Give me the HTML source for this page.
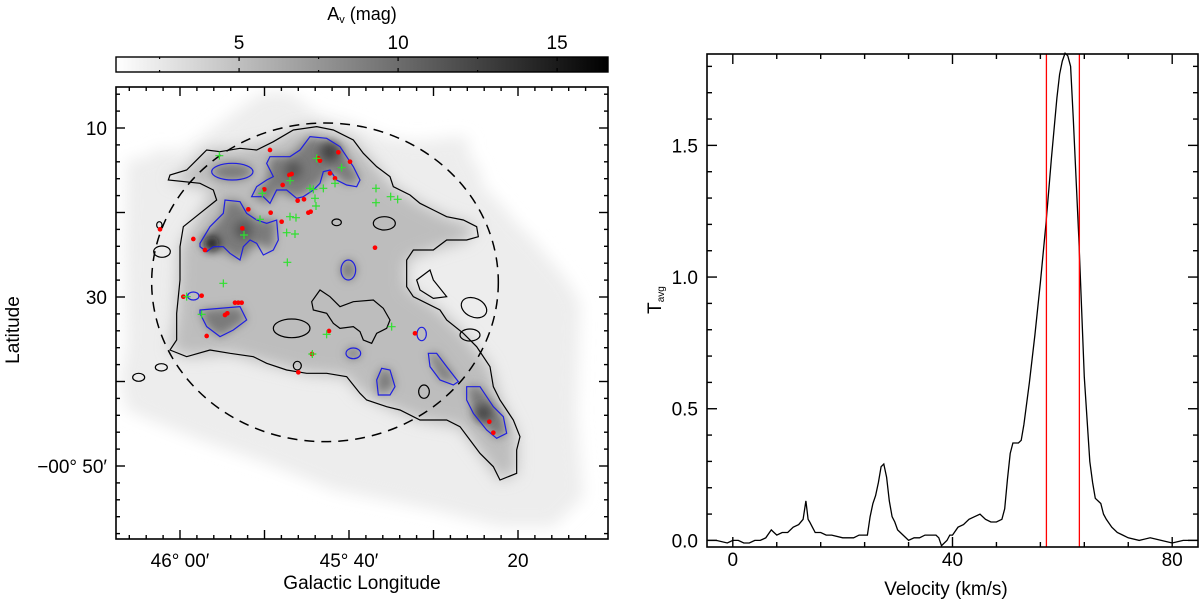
<!DOCTYPE html>
<html><head><meta charset="utf-8"><style>
html,body{margin:0;padding:0;background:#fff;}
svg{display:block;font-family:"Liberation Sans",Arial,sans-serif;}
</style></head><body>
<svg id="fig" width="1200" height="603" viewBox="0 0 1200 603" xmlns="http://www.w3.org/2000/svg">
<defs>
<linearGradient id="cbg" x1="0" x2="1" y1="0" y2="0"><stop offset="0" stop-color="#fff"/><stop offset="1" stop-color="#000"/></linearGradient>
<filter id="bl" x="-20%" y="-20%" width="140%" height="140%"><feGaussianBlur stdDeviation="22"/></filter>
<filter id="bl2" x="-50%" y="-50%" width="200%" height="200%"><feGaussianBlur stdDeviation="14"/></filter>
<clipPath id="mapclip"><rect x="116" y="87" width="492" height="452"/></clipPath>
</defs>

<g>
<text x="362" y="20" font-size="18" text-anchor="middle">A<tspan font-size="11" dy="3">v</tspan><tspan dy="-3"> (mag)</tspan></text>
<rect x="116" y="57" width="492" height="15" fill="url(#cbg)" stroke="#000" stroke-width="1.4"/>
<g id="cbticks"></g>
</g>

<g clip-path="url(#mapclip)">
<g transform="translate(100,80) scale(0.33333)">
<polygon filter="url(#bl)" fill="#ededed" points="80,240 150,230 160,210 250,210 400,100 480,40 560,35 600,60 650,100 760,130 850,170 950,185 1070,170 1105,175 1105,220 1140,270 1150,320 1200,370 1250,430 1300,480 1350,540 1400,600 1440,670 1430,1000 1450,1250 1360,1340 1200,1340 1000,1290 700,1230 500,1150 300,1080 150,1020 80,990 60,900 80,800 75,500"/>
<polygon filter="url(#bl)" fill="#bdbdbd" points="205,300 260,270 320,210 420,205 520,185 580,150 650,140 760,180 830,260 880,320 960,370 1040,410 1130,440 1100,480 1000,510 920,540 920,620 1020,690 1090,760 1170,860 1200,960 1250,1060 1250,1180 1200,1200 1140,1120 1080,1040 960,1020 860,980 780,940 740,890 620,880 500,850 390,820 260,830 210,810 230,700 240,500 300,400 340,330"/>
<g filter="url(#bl2)" fill="#7a7a7a">
<polygon points="455,350 500,300 510,230 570,230 630,170 720,200 780,300 740,315 690,270 660,310 590,355 530,330 510,370"/>
<polygon points="300,490 370,400 375,360 420,365 470,420 530,420 520,510 470,490 420,540 340,500"/>
<polygon points="300,690 420,680 440,720 360,770 320,740"/>
<ellipse cx="397" cy="275" rx="62" ry="25"/>
<polygon points="1100,920 1140,920 1210,1010 1220,1060 1190,1075 1120,1000"/>
<polygon points="985,820 1010,820 1075,905 1020,900"/>
<polygon points="830,900 845,865 870,870 885,920 835,945"/>
<ellipse cx="745" cy="570" rx="22" ry="30"/>
<ellipse cx="760" cy="820" rx="22" ry="16"/>
</g>
<g filter="url(#bl2)">
<circle cx="335" cy="492" r="22" fill="#111"/>
<circle cx="690" cy="215" r="30" fill="#444"/>
<circle cx="580" cy="270" r="25" fill="#555"/>
<circle cx="1150" cy="1000" r="25" fill="#444"/>
<circle cx="430" cy="450" r="25" fill="#555"/>
</g>
<g fill="none" stroke-width="1.2" vector-effect="non-scaling-stroke">
<path stroke="#000" vector-effect="non-scaling-stroke" d="M205,300 L210,285 260,270 300,230 320,210 360,215 420,205 470,210 520,185 580,150 650,140 700,150 760,180 790,220 830,260 870,290 880,320 930,345 960,370 1000,390 1040,410 1090,420 1130,440 1135,470 1100,480 1040,480 1000,510 940,510 920,540 920,620 940,650 1020,690 1040,720 1090,760 1130,800 1170,860 1180,920 1200,960 1240,1020 1260,1070 1250,1110 1250,1180 1200,1200 1180,1160 1140,1120 1110,1080 1080,1040 1040,1020 960,1020 900,990 860,980 800,960 780,940 740,890 680,880 620,880 560,870 500,850 460,830 390,820 330,810 260,830 210,810 230,780 230,700 240,600 240,500 250,440 300,400 350,360 340,330 300,310 Z"/>
<g stroke="#000">
<ellipse cx="575" cy="745" rx="55" ry="28" vector-effect="non-scaling-stroke"/>
<path vector-effect="non-scaling-stroke" d="M635,665 L660,630 690,650 720,680 760,665 820,660 850,685 870,720 860,745 830,760 815,790 790,780 780,755 760,740 720,745 700,730 680,700 640,690 Z"/>
<ellipse cx="853" cy="430" rx="33" ry="20" vector-effect="non-scaling-stroke"/>
<ellipse cx="710" cy="427" rx="14" ry="10" vector-effect="non-scaling-stroke"/>
<path vector-effect="non-scaling-stroke" d="M950,600 L990,570 1000,600 1040,650 1000,655 960,630 Z"/>
<ellipse cx="1122" cy="683" rx="40" ry="28" vector-effect="non-scaling-stroke" transform="rotate(25 1122 683)"/>
<ellipse cx="1110" cy="765" rx="30" ry="18" vector-effect="non-scaling-stroke"/>
<ellipse cx="972" cy="935" rx="16" ry="20" vector-effect="non-scaling-stroke"/>
<ellipse cx="186" cy="515" rx="25" ry="17" vector-effect="non-scaling-stroke"/>
<ellipse cx="184" cy="862" rx="18" ry="11" vector-effect="non-scaling-stroke"/>
<ellipse cx="116" cy="892" rx="18" ry="12" vector-effect="non-scaling-stroke"/>
<ellipse cx="178" cy="435" rx="8" ry="10" vector-effect="non-scaling-stroke"/>
<ellipse cx="592" cy="857" rx="12" ry="13" vector-effect="non-scaling-stroke"/>
</g>
<g stroke="#1f1fe0">
<ellipse cx="397" cy="275" rx="62" ry="25" vector-effect="non-scaling-stroke"/>
<path vector-effect="non-scaling-stroke" d="M455,350 L470,320 500,300 520,290 500,250 510,230 570,230 600,210 630,170 680,175 720,200 740,230 760,260 780,300 770,320 740,315 710,300 690,270 670,275 660,310 640,330 610,350 590,355 560,330 530,330 520,350 510,370 490,350 Z"/>
<path vector-effect="non-scaling-stroke" d="M300,490 L330,440 370,400 375,360 420,365 440,400 470,420 500,430 530,420 535,480 520,510 490,525 470,490 450,480 430,500 420,540 390,520 370,500 340,500 320,515 300,500 Z"/>
<ellipse cx="745" cy="570" rx="22" ry="30" vector-effect="non-scaling-stroke"/>
<ellipse cx="280" cy="648" rx="17" ry="12" vector-effect="non-scaling-stroke"/>
<path vector-effect="non-scaling-stroke" d="M300,690 L420,680 440,720 400,750 360,770 320,740 300,700 Z"/>
<ellipse cx="760" cy="820" rx="22" ry="16" vector-effect="non-scaling-stroke"/>
<path vector-effect="non-scaling-stroke" d="M830,900 L845,865 870,870 885,920 870,945 835,945 Z"/>
<ellipse cx="965" cy="762" rx="14" ry="20" vector-effect="non-scaling-stroke"/>
<path vector-effect="non-scaling-stroke" d="M985,820 L1010,820 1040,860 1075,905 1060,915 1020,900 990,860 Z"/>
<path vector-effect="non-scaling-stroke" d="M1100,920 L1140,920 1180,980 1210,1010 1220,1060 1190,1075 1160,1050 1120,1000 1100,960 Z"/>
</g>
<ellipse cx="675" cy="607" rx="520" ry="478" stroke="#000" stroke-dasharray="10,7" vector-effect="non-scaling-stroke" stroke-width="1.5"/>
</g>
<g id="markers"></g>
</g>
</g>
<rect x="116" y="87" width="492" height="452" fill="none" stroke="#000" stroke-width="1.6"/>
<g id="mapticks"></g>
<text x="180" y="567" font-size="19" text-anchor="middle">46° 00′</text>
<text x="349" y="567" font-size="19" text-anchor="middle">45° 40′</text>
<text x="518" y="567" font-size="19" text-anchor="middle">20</text>
<text x="107" y="135" font-size="19" text-anchor="end">10</text>
<text x="107" y="304" font-size="19" text-anchor="end">30</text>
<text x="107" y="473" font-size="19" text-anchor="end">−00° 50′</text>
<text x="362" y="589" font-size="19" text-anchor="middle">Galactic Longitude</text>
<text transform="translate(19,330) rotate(-90)" font-size="19" text-anchor="middle">Latitude</text>

<g id="spec"></g>
<text transform="translate(661,300) rotate(-90)" font-size="19" text-anchor="middle">T<tspan font-size="10" dy="3">avg</tspan></text>
<text x="946" y="595" font-size="19" text-anchor="middle">Velocity (km/s)</text>
</svg>
<script>
const NS="http://www.w3.org/2000/svg";
const velocity=[-4.7,-3,-1,0,1,2,3,4,5,6,7,7.5,8,9,10,11,12,12.8,13.3,13.7,14,14.5,15,16,17,18,20,22,23,24,24.5,25,25.5,26,26.5,27,27.5,28,28.5,29,29.5,30,31,32,33,34,35,36,37,37.5,38,39,39.5,40,41,42,43,44,45,46,47,48,49,49.5,50,50.5,51,52,52.5,53,54,55,56,57,58,59,59.5,60,60.5,61,61.5,62,63,64,65,65.5,66,67,67.5,68,69,70,71,72,74,76,78,80,82,84.7];
const tavg=[0.0,0.0,-0.01,0.0,0.0,-0.01,-0.01,0.0,0.0,0.01,0.04,0.03,0.02,0.03,0.03,0.05,0.06,0.08,0.15,0.08,0.07,0.05,0.03,0.03,0.02,0.02,0.01,0.01,0.02,0.02,0.02,0.09,0.14,0.17,0.22,0.28,0.29,0.24,0.15,0.09,0.07,0.04,0.02,0.0,0.01,0.01,0.02,0.02,0.02,0.01,-0.02,0.0,0.02,0.02,0.05,0.06,0.08,0.09,0.1,0.08,0.07,0.07,0.08,0.12,0.23,0.33,0.37,0.37,0.38,0.44,0.6,0.78,0.98,1.2,1.45,1.68,1.77,1.82,1.85,1.84,1.8,1.6,1.15,0.62,0.3,0.22,0.16,0.14,0.1,0.08,0.05,0.03,0.02,0.01,0.0,0.01,0.0,-0.01,0.0,0.0,0.0];
const redLines=[57.1,63.1];
const xTicks=[0,40,80];
const yTicks=[0.0,0.5,1.0,1.5];
const cbTicks=[5,10,15];
const ylCls=[
[510,210],[655,235],[660,242],[715,217],[750,245],[690,280],[705,295],[575,282],[568,285],[493,328],[548,315],[593,362],[612,358],[445,388],[512,398],[625,398],[632,395],[545,425],[427,445],[280,477],[315,510],[180,448],[825,503],[250,650],[305,647],[405,668],[425,668],[415,668],[375,705],[382,700],[320,768],[687,753],[636,822],[595,877],[945,760],[1168,1025],[1180,1058]];
const ysos=[[358,227],[650,235],[725,263],[570,302],[705,310],[630,325],[640,328],[670,325],[487,340],[828,325],[828,368],[872,350],[893,358],[645,355],[648,378],[570,410],[588,413],[480,418],[432,465],[560,458],[585,462],[562,547],[370,610],[260,650],[305,703],[680,763],[875,740],[637,822]];

const X0=707,X1=1198,Y0=54,Y1=547,vmin=-4.7,vmax=84.7,tmin=-0.025,tmax=1.847;
const sx=v=>X0+(v-vmin)/(vmax-vmin)*(X1-X0);
const sy=t=>Y1-(t-tmin)/(tmax-tmin)*(Y1-Y0);
function mk(tag,attrs,parent){const e=document.createElementNS(NS,tag);for(const k in attrs)e.setAttribute(k,attrs[k]);parent.appendChild(e);return e;}
const spec=document.getElementById('spec');
let d='';velocity.forEach((v,i)=>{d+=(i?'L':'M')+sx(v).toFixed(1)+','+sy(tavg[i]).toFixed(1)+' ';});
const ln=mk('path',{d:d,fill:'none',stroke:'#000','stroke-width':1.3},spec);


redLines.forEach(v=>{const r=mk('line',{x1:sx(v),x2:sx(v),y1:Y0,y2:Y1,stroke:'#f00','stroke-width':1.3},spec);

});
const fr=mk('rect',{x:X0,y:Y0,width:X1-X0,height:Y1-Y0,fill:'none',stroke:'#000','stroke-width':1.6},spec);


for(let v=0;v<=vmax;v+=8){const x=sx(v),L=(v%40===0)?10:5;
mk('line',{x1:x,x2:x,y1:Y1,y2:Y1-L,stroke:'#000','stroke-width':1.4},spec);
mk('line',{x1:x,x2:x,y1:Y0,y2:Y0+L,stroke:'#000','stroke-width':1.4},spec);}
xTicks.forEach(v=>{const t=mk('text',{x:sx(v),y:566,'font-size':19,'text-anchor':'middle'},spec);t.textContent=String(v);

});
for(let i=0;i<=18;i++){const t=i/10,y=sy(t),L=(i%5===0)?10:5;
mk('line',{x1:X0,x2:X0+L,y1:y,y2:y,stroke:'#000','stroke-width':1.4},spec);
mk('line',{x1:X1,x2:X1-L,y1:y,y2:y,stroke:'#000','stroke-width':1.4},spec);}
yTicks.forEach(t=>{const e=mk('text',{x:698,y:sy(t)+7,'font-size':19,'text-anchor':'end'},spec);e.textContent=t.toFixed(1);

});
const cb=document.getElementById('cbticks');const cx=a=>116+(a-1.13)/(16.6-1.13)*492;
for(let a=2.5;a<16.6;a+=2.5){const x=cx(a),L=(a%5===0)?4:2;
mk('line',{x1:x,x2:x,y1:57,y2:57+L,stroke:'#000','stroke-width':1.2},cb);mk('line',{x1:x,x2:x,y1:72,y2:72-L,stroke:'#000','stroke-width':1.2},cb);}
cbTicks.forEach(a=>{const t=mk('text',{x:cx(a),y:49,'font-size':19,'text-anchor':'middle'},cb);t.textContent=String(a);

});
const mt=document.getElementById('mapticks');
for(let k=-4;k<=24;k++){const x=180+k*16.9;if(x<116||x>608)continue;const L=(k%5===0)?9:4;
mk('line',{x1:x,x2:x,y1:539,y2:539-L,stroke:'#000','stroke-width':1.4},mt);mk('line',{x1:x,x2:x,y1:87,y2:87+L,stroke:'#000','stroke-width':1.4},mt);}
for(let k=-3;k<=25;k++){const y=128+k*16.9;if(y<87||y>539)continue;const L=(k%5===0)?9:4;
mk('line',{x1:116,x2:116+L,y1:y,y2:y,stroke:'#000','stroke-width':1.4},mt);mk('line',{x1:608,x2:608-L,y1:y,y2:y,stroke:'#000','stroke-width':1.4},mt);}
const mg=document.getElementById('markers');
ylCls.forEach(p=>{const c=mk('circle',{cx:p[0],cy:p[1],r:7,fill:'#f00'},mg);

});
ysos.forEach(p=>{const c=mk('path',{d:`M${p[0]-12},${p[1]}h24M${p[0]},${p[1]-12}v24`,stroke:'#2fe02f','stroke-width':1.2,'vector-effect':'non-scaling-stroke',fill:'none'},mg);

});
</script>
</body></html>
